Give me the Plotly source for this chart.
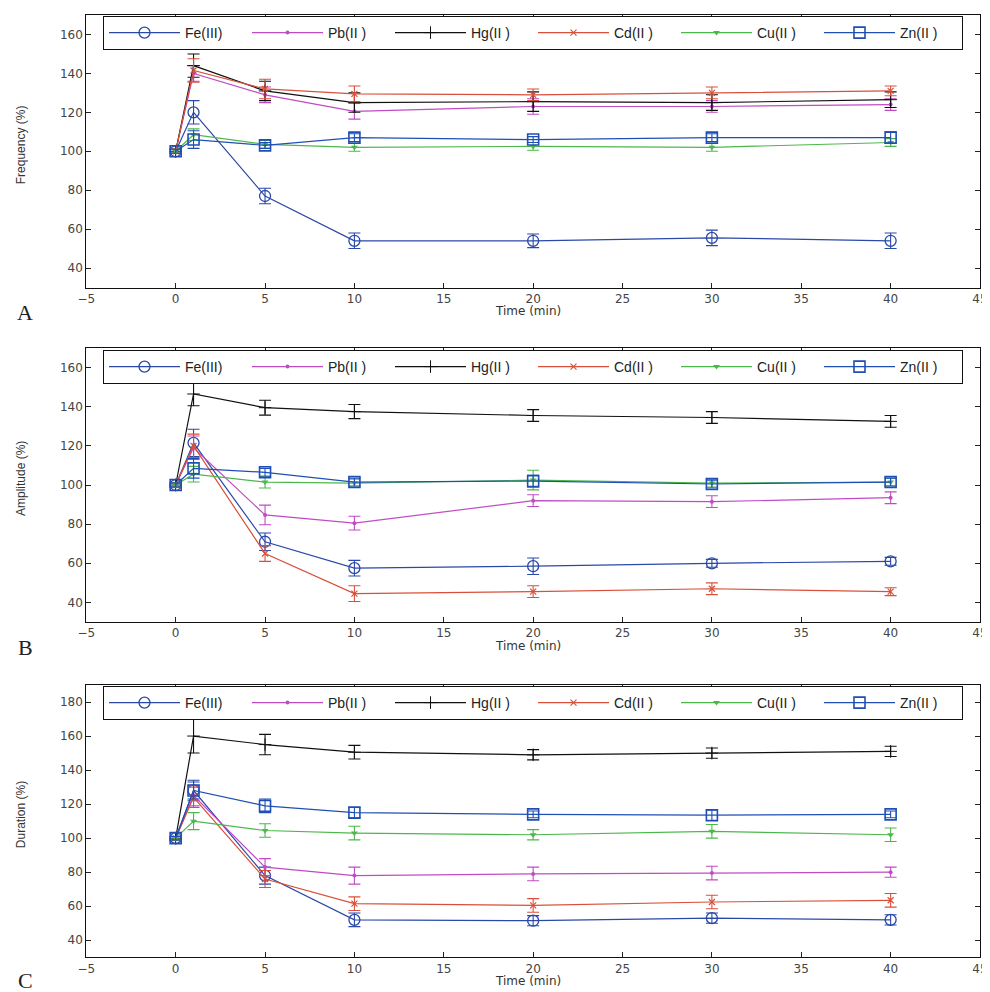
import plotly.graph_objects as go

# ---------------- data ----------------
time_min = [0, 1, 5, 10, 20, 30, 40]
series_names = ["Fe(III)", "Pb(II )", "Hg(II )", "Cd(II )", "Cu(II )", "Zn(II )"]

# Panel A: Frequency (%)
freq_fe = [100, 120, 77, 54, 54, 55.5, 54]
freq_fe_err = [1, 6, 4, 4, 3.5, 4, 4]
freq_pb = [100, 140, 129, 120.5, 123, 123, 124]
freq_pb_err = [1, 4, 4, 4, 4, 3, 3]
freq_hg = [100, 144, 131, 125, 125.5, 125, 126.5]
freq_hg_err = [1, 6, 5, 5, 5, 4, 4]
freq_cd = [100, 141.5, 132, 129.5, 129, 130, 131]
freq_cd_err = [1, 6, 5, 4, 3, 3, 2.5]
freq_cu = [100, 108.5, 103.5, 102, 102.5, 102, 104.5]
freq_cu_err = [1, 3, 2, 2, 2, 2, 2]
freq_zn = [100, 106, 103, 107, 106, 107, 107]
freq_zn_err = [1, 4.5, 1.5, 2, 1.5, 2, 3]

# Panel B: Amplitude (%)
amp_fe = [100, 121.5, 71, 57.5, 58.5, 60, 61]
amp_fe_err = [1, 7, 4.5, 4, 4.2, 2, 2]
amp_pb = [100, 119, 84.7, 80.5, 92, 91.5, 93.5]
amp_pb_err = [1, 6, 5, 3.5, 3, 3, 3]
amp_hg = [100, 146.5, 139.5, 137.5, 135.5, 134.5, 132.5]
amp_hg_err = [1, 6, 3.8, 3.6, 3, 3, 3]
amp_cd = [100, 120, 65, 44.5, 45.5, 47, 45.5]
amp_cd_err = [1, 6, 4, 4, 3, 3, 2]
amp_cu = [100, 105.5, 101.5, 101, 102.5, 101, 101.5]
amp_cu_err = [1, 4, 3, 2, 5, 2, 2]
amp_zn = [100, 108.5, 106.5, 101.5, 102, 100.5, 101.5]
amp_zn_err = [1, 5, 2, 2, 3, 2, 2]

# Panel C: Duration (%)
dur_fe = [100, 128, 78, 52, 51.5, 53, 52]
dur_fe_err = [1, 6, 5, 4, 3, 3, 3]
dur_pb = [100, 125, 83, 78, 79, 79.5, 80]
dur_pb_err = [1, 6, 5, 5, 4, 4, 3]
dur_hg = [100, 160, 155, 150.5, 149, 150, 151]
dur_hg_err = [1, 10, 6, 4, 3, 3, 3]
dur_cd = [100, 124, 76, 61.5, 60.5, 62.5, 63.5]
dur_cd_err = [1, 6, 5, 4, 4, 4, 4]
dur_cu = [100, 110, 104.5, 103, 102, 104, 102]
dur_cu_err = [1, 5, 4, 4, 3, 4, 4]
dur_zn = [100, 128, 119, 115, 114, 113.5, 114]
dur_zn_err = [1, 5, 4, 3, 2, 3, 2]

panel_letters = ["A", "B", "C"]
panel_ylabels = ["Frequency (%)", "Amplitude (%)", "Duration (%)"]
x_ticks = [-5, 0, 5, 10, 15, 20, 25, 30, 35, 40, 45]
y_ticks_ab = [40, 60, 80, 100, 120, 140, 160]
y_ticks_c = [40, 60, 80, 100, 120, 140, 160, 180]

panels = [
    [(freq_fe, freq_fe_err), (freq_pb, freq_pb_err), (freq_hg, freq_hg_err),
     (freq_cd, freq_cd_err), (freq_cu, freq_cu_err), (freq_zn, freq_zn_err)],
    [(amp_fe, amp_fe_err), (amp_pb, amp_pb_err), (amp_hg, amp_hg_err),
     (amp_cd, amp_cd_err), (amp_cu, amp_cu_err), (amp_zn, amp_zn_err)],
    [(dur_fe, dur_fe_err), (dur_pb, dur_pb_err), (dur_hg, dur_hg_err),
     (dur_cd, dur_cd_err), (dur_cu, dur_cu_err), (dur_zn, dur_zn_err)],
]

# ---------------- styles ----------------
# page body has an 8px margin, so the figure is 8px smaller than the window
OFF = 8
W, H = 990 - OFF, 992 - OFF
colors = ["#2a48a8", "#c04cc4", "#111111", "#d9503a", "#4cb84c", "#1f4fb4"]
markers = [
    dict(symbol="circle-open", size=11, line=dict(width=1.3)),
    dict(symbol="circle", size=4),
    dict(symbol="cross-thin-open", size=9, line=dict(width=1)),
    dict(symbol="x-thin-open", size=6, line=dict(width=1.2)),
    dict(symbol="triangle-down", size=6),
    dict(symbol="square-open", size=11, line=dict(width=1.6)),
]

# panel geometry in window pixels (top, bottom)
x_left, x_right = 86.3, 980
panel_px = [(15, 287.5), (348, 622), (685, 957.3)]
legend_top_px = [17, 351, 687]
ylims = [[30, 170], [30, 170], [30, 190]]


def px_x(v):
    return (v - OFF) / W


def px_y(v):
    return 1 - (v - OFF) / H


fig = go.Figure()

for p in range(3):
    ax = "" if p == 0 else str(p + 1)
    leg = "legend" if p == 0 else "legend%d" % (p + 1)
    for i, (vals, errs) in enumerate(panels[p]):
        mk = dict(markers[i])
        mk["color"] = colors[i]
        if "line" in mk:
            mk["line"] = dict(mk["line"], color=colors[i])
        fig.add_trace(go.Scatter(
            x=time_min, y=vals, name=series_names[i],
            mode="lines+markers",
            line=dict(color=colors[i], width=1.2),
            marker=mk,
            error_y=dict(type="data", array=errs, visible=True,
                         color=colors[i], thickness=1.1, width=6),
            xaxis="x" + ax, yaxis="y" + ax, legend=leg,
        ))

layout = dict(
    width=W, height=H,
    margin=dict(l=0, r=0, t=0, b=0, autoexpand=False),
    paper_bgcolor="white", plot_bgcolor="white",
    font=dict(family="DejaVu Sans", size=12, color="#333"),
    annotations=[],
)

tickfont = dict(family="DejaVu Sans", size=12, color="#444")
xdom = [px_x(x_left), px_x(x_right)]
for p in range(3):
    ax = "" if p == 0 else str(p + 1)
    top, bot = panel_px[p]
    ydom = [px_y(bot), px_y(top)]
    layout["xaxis" + ax] = dict(
        domain=xdom, range=[-5, 45], tickvals=x_ticks,
        ticks="inside", ticklen=5, tickcolor="#222",
        showline=True, linecolor="#111", linewidth=1, mirror="ticks",
        showgrid=False, zeroline=False, tickfont=tickfont,
        anchor="y" + ax,
    )
    layout["yaxis" + ax] = dict(
        domain=ydom, range=ylims[p],
        tickvals=(y_ticks_c if p == 2 else y_ticks_ab),
        ticks="inside", ticklen=5, tickcolor="#222",
        showline=True, linecolor="#111", linewidth=1, mirror="ticks",
        showgrid=False, zeroline=False, tickfont=tickfont,
        anchor="x" + ax,
    )
    leg = "legend" if p == 0 else "legend%d" % (p + 1)
    layout[leg] = dict(
        orientation="h", x=px_x(103), y=px_y(legend_top_px[p] - 1),
        xanchor="left", yanchor="top",
        bgcolor="white", bordercolor="#111", borderwidth=1,
        font=dict(family="Liberation Sans", size=14, color="#222"),
        itemwidth=71, entrywidth=57, entrywidthmode="pixels",
        tracegroupgap=0,
    )
    # x title
    layout["annotations"].append(dict(
        text="Time (min)", x=px_x(528), y=px_y(bot + 24),
        xref="paper", yref="paper", showarrow=False,
        xanchor="center", yanchor="middle",
        font=dict(family="DejaVu Sans", size=12, color="#333")))
    # y title
    layout["annotations"].append(dict(
        text=panel_ylabels[p], x=px_x(21), y=px_y((top + bot) / 2 - 6),
        xref="paper", yref="paper", showarrow=False, textangle=-90,
        xanchor="center", yanchor="middle",
        font=dict(family="Liberation Sans", size=12, color="#333")))
    # panel letter
    layout["annotations"].append(dict(
        text=panel_letters[p], x=px_x(25), y=px_y(min(bot + 25, 980)),
        xref="paper", yref="paper", showarrow=False,
        xanchor="center", yanchor="middle",
        font=dict(family="Liberation Serif", size=22, color="#222")))

fig.update_layout(**layout)
fig.write_html("out.html")
